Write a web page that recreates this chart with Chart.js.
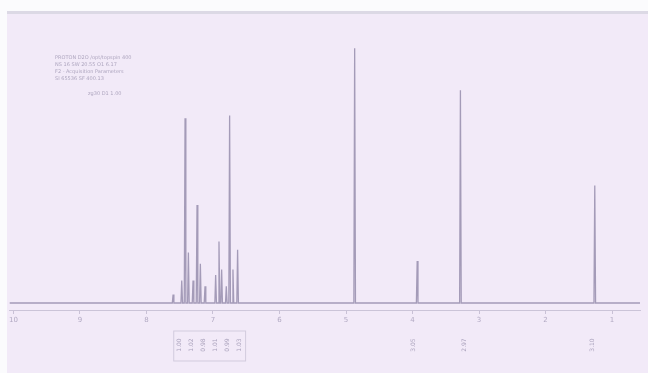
<!DOCTYPE html>
<html><head><meta charset="utf-8">
<script src="https://cdn.jsdelivr.net/npm/chart.js@4/dist/chart.umd.min.js"></script>
<style>
html,body{margin:0;padding:0;background:#fbfbfd;width:648px;height:373px;overflow:hidden;font-family:"DejaVu Sans",sans-serif}
#wrap{position:absolute;left:7px;top:11px;width:641px;height:362px;border-top:3px solid #dcd9e5;background:#f2eaf8}
#c{position:absolute;left:0;top:1px}
.note{position:absolute;color:#aea6bf;font-size:5px;white-space:nowrap;line-height:7px}
</style></head>
<body>
<div id="wrap"><canvas id="c" width="641" height="358"></canvas></div>
<div class="note" style="left:55px;top:54px">PROTON  D2O  /opt/topspin  400</div>
<div class="note" style="left:55px;top:61px">NS 16   SW 20.55   O1 6.17</div>
<div class="note" style="left:55px;top:68px">F2 - Acquisition Parameters</div>
<div class="note" style="left:55px;top:75px">SI 65536   SF 400.13</div>
<div class="note" style="left:88px;top:90px">zg30   D1 1.00</div>
<script>
// x axis tick labels (ppm)
const tickLabels = [10, 9, 8, 7, 6, 5, 4, 3, 2, 1];
// peak positions (ppm) and heights (relative intensity)
const peakPpm    = [7.60, 7.47, 7.42, 7.37, 7.30, 7.24, 7.19, 7.12, 6.96, 6.91, 6.87, 6.80, 6.75, 6.70, 6.63, 4.87, 3.93, 3.28, 1.26];
const peakHeight = [3,    8,    66,   18,   8,    35,   14,   6,    10,   22,   12,   6,    67,   12,   19,   91,   15,   76,   42];
// integration labels below the axis
const integPpm  = [7.50, 7.32, 7.14, 6.96, 6.78, 6.60, 3.99, 3.22, 1.30];
const integText = ["1.00", "1.02", "0.98", "1.01", "0.99", "1.03", "3.05", "2.97", "3.10"];

const pts = [{x: 10.06, y: 0}];
const order = peakPpm.map((p, i) => i).sort((a, b) => peakPpm[b] - peakPpm[a]);
for (const i of order) {
  pts.push({x: peakPpm[i] + 0.012, y: 0});
  pts.push({x: peakPpm[i], y: peakHeight[i]});
  pts.push({x: peakPpm[i] - 0.012, y: 0});
}
pts.push({x: 0.58, y: 0});

const integPlugin = {
  id: 'integ',
  afterDraw(chart) {
    const ctx = chart.ctx, xs = chart.scales.x;
    ctx.save();
    ctx.fillStyle = '#aaa2bc';
    ctx.font = '6px "DejaVu Sans"';
    ctx.textAlign = 'center';
    ctx.textBaseline = 'middle';
    integPpm.forEach((p, i) => {
      const x = xs.getPixelForValue(p);
      ctx.save();
      ctx.translate(x, 330);
      ctx.rotate(-Math.PI / 2);
      ctx.fillText(integText[i], 0, 0);
      ctx.restore();
    });
    // bracket box around aromatic integrals
    const x1 = xs.getPixelForValue(integPpm[0]) - 6, x2 = xs.getPixelForValue(integPpm[5]) + 6;
    ctx.strokeStyle = '#d2cbdd';
    ctx.lineWidth = 1;
    ctx.strokeRect(x1, 316, x2 - x1, 30);
    ctx.restore();
  }
};

new Chart(document.getElementById('c'), {
  type: 'line',
  data: { datasets: [{ data: pts, borderColor: '#a49bb8', borderWidth: 1.3, pointRadius: 0, tension: 0, fill: false }] },
  options: {
    responsive: false, animation: false,
    layout: { padding: { left: 1, right: 8, top: 8, bottom: 0 } },
    plugins: { legend: { display: false }, tooltip: { enabled: false } },
    scales: {
      x: {
        type: 'linear', reverse: true, min: 0.58, max: 10.06,
        afterBuildTicks: s => { s.ticks = tickLabels.map(v => ({ value: v })); },
        afterFit: s => { s.height = 63; },
        grid: { drawOnChartArea: false, color: '#c9c1d6', tickLength: 4 },
        border: { color: '#cbc4d8', width: 1 },
        ticks: { color: '#b2aac3', font: { size: 7, family: 'DejaVu Sans' }, padding: 2, maxRotation: 0, autoSkip: false }
      },
      y: { display: false, min: -2.5, max: 100 }
    }
  },
  plugins: [integPlugin]
});
</script>
</body></html>
